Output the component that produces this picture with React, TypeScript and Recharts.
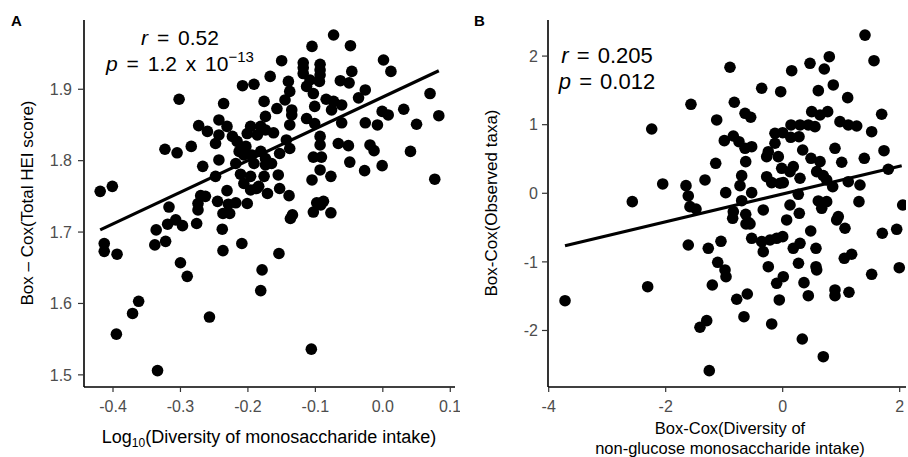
import React from "react";
import { ScatterChart, Scatter, XAxis, YAxis } from "recharts";

// Panel A: Log10(diversity of monosaccharide intake) vs Box-Cox(Total HEI score)
const monoDiversityA = [
  -0.073, -0.105, -0.048, -0.15, -0.118, -0.118, -0.118, -0.093, -0.093, -0.093, -0.094, 0.001, 0.012,
  -0.046, -0.063, -0.05, -0.026, -0.036, 0.07, 0.083, 0.031, 0.05, -0.001, 0.008, -0.026, -0.008, -0.061,
  0.041, 0.077, -0.001, -0.027, -0.049, -0.019, -0.013, -0.066, -0.051, -0.093, -0.093, -0.103, -0.091,
  -0.093, -0.077, -0.105, -0.155, -0.153, -0.139, -0.098, -0.088, -0.14, -0.138, -0.145, -0.157, -0.135,
  -0.135, -0.138, -0.113, -0.101, -0.101, -0.084, -0.073, -0.061, -0.076, -0.113, -0.103, -0.108, -0.162,
  -0.143, -0.138, -0.153, -0.165, -0.167, -0.302, -0.419, -0.401, -0.323, -0.305, -0.284, -0.267, -0.243,
  -0.248, -0.231, -0.273, -0.26, -0.243, -0.243, -0.248, -0.231, -0.223, -0.216, -0.213, -0.218, -0.236,
  -0.208, -0.191, -0.176, -0.174, -0.181, -0.196, -0.201, -0.186, -0.174, -0.203, -0.206, -0.194, -0.181,
  -0.174, -0.191, -0.174, -0.211, -0.196, -0.176, -0.206, -0.196, -0.184, -0.171, -0.27, -0.263, -0.245,
  -0.218, -0.201, -0.187, -0.317, -0.274, -0.274, -0.237, -0.227, -0.229, -0.137, -0.134, -0.103, -0.092,
  -0.077, -0.413, -0.413, -0.394, -0.336, -0.338, -0.322, -0.319, -0.307, -0.297, -0.276, -0.238, -0.237,
  -0.209, -0.3, -0.29, -0.362, -0.371, -0.395, -0.334, -0.257, -0.179, -0.181, -0.154, -0.106,
];
const heiScoreA = [
  1.976, 1.96, 1.961, 1.94, 1.937, 1.93, 1.922, 1.935, 1.927, 1.92, 1.911, 1.941, 1.925,
  1.925, 1.912, 1.909, 1.899, 1.888, 1.894, 1.863, 1.872, 1.851, 1.869, 1.864, 1.853, 1.85, 1.853,
  1.813, 1.774, 1.793, 1.786, 1.798, 1.822, 1.814, 1.824, 1.821, 1.834, 1.822, 1.805, 1.805,
  1.787, 1.778, 1.773, 1.78, 1.761, 1.751, 1.741, 1.743, 1.911, 1.897, 1.885, 1.873, 1.871,
  1.864, 1.85, 1.859, 1.852, 1.876, 1.886, 1.883, 1.878, 1.871, 1.904, 1.894, 1.913, 1.839,
  1.829, 1.817, 1.81, 1.796, 1.918, 1.886, 1.757, 1.764, 1.816, 1.811, 1.82, 1.792, 1.801,
  1.778, 1.758, 1.849, 1.841, 1.857, 1.836, 1.824, 1.848, 1.834, 1.827, 1.813, 1.796, 1.88,
  1.905, 1.907, 1.883, 1.862, 1.848, 1.848, 1.838, 1.836, 1.843, 1.82, 1.808, 1.808, 1.813,
  1.803, 1.796, 1.794, 1.781, 1.778, 1.778, 1.768, 1.759, 1.764, 1.754, 1.751, 1.75, 1.743,
  1.741, 1.74, 1.761, 1.735, 1.74, 1.731, 1.726, 1.726, 1.739, 1.719, 1.724, 1.728, 1.738,
  1.727, 1.684, 1.673, 1.669, 1.703, 1.682, 1.687, 1.711, 1.717, 1.709, 1.712, 1.704, 1.674,
  1.684, 1.657, 1.638, 1.603, 1.586, 1.557, 1.506, 1.581, 1.647, 1.618, 1.67, 1.536,
];
const fitXA = [-0.419, 0.083];
const fitYA = [1.703, 1.926];
const xTicksA = [-0.4, -0.3, -0.2, -0.1, 0.0, 0.1];
const yTicksA = [1.5, 1.6, 1.7, 1.8, 1.9];

// Panel B: Box-Cox(diversity of non-glucose monosaccharide intake) vs Box-Cox(Observed taxa)
const monoDiversityB = [
  1.407, 1.561, 0.797, 0.467, 0.711, 0.154, -0.901, -0.359, -0.034, 0.865, 0.609, 1.111, -1.568,
  -0.827, -2.239, -1.128, -0.644, -0.547, 1.692, 1.521, 1.732, 1.395, 1.805, 2.051, 0.769, 0.638,
  0.496, 0.552, 0.438, 0.296, 0.142, 0.137, 0.279, -0.132, 0.0, 0.979, 1.121, 1.265, 0.894, 1.009,
  0.342, 0.484, 0.638, 0.581, 0.694, 0.752, 0.855, 1.121, 1.321, 1.304, -0.132, -0.246, -0.274,
  -0.075, -0.017, 0.181, 0.125, 0.296, -0.274, -0.188, -0.046, 0.01, -0.644, -0.53, -0.998, -0.844,
  -0.747, -0.632, -0.701, -0.73, -0.53, -0.974, -1.145, -1.328, -1.653, -1.614, -1.585, -1.482,
  -2.051, -2.571, -0.701, -0.844, -0.855, -0.632, -0.588, -0.332, 0.125, 0.267, 0.284, 0.068, 0.609,
  0.667, 0.752, 0.95, 1.065, -3.721, -2.308, -1.614, -1.272, -1.055, -1.111, -0.986, -0.969, -1.203,
  -1.299, -1.414, -1.255, -0.786, -0.605, -0.662, -0.627, -0.559, -0.53, -0.359, -0.332, -0.217,
  -0.103, 0.0, -0.246, -0.103, 0.01, -0.058, -0.188, 0.181, 0.296, 0.27, 0.479, 0.569, 0.569, 0.581,
  0.364, 0.438, 0.335, 0.694, 0.894, 0.894, 1.133, 1.053, 1.179, 1.521, 1.703, 1.949, 1.993, 0.923,
];
const observedTaxaB = [
  2.306, 1.933, 1.991, 1.895, 1.812, 1.787, 1.837, 1.531, 1.481, 1.579, 1.496, 1.394, 1.297,
  1.327, 0.937, 1.069, 1.166, 1.108, 1.152, 0.898, 0.621, 0.51, 0.35, -0.171, 1.19, 1.141,
  1.19, 0.971, 0.996, 0.996, 0.996, 0.816, 0.825, 0.875, 0.883, 1.044, 0.996, 0.981, 0.656, 0.452,
  0.631, 0.51, 0.461, 0.315, 0.257, 0.194, 0.096, 0.169, 0.121, -0.122, 0.729, 0.606, 0.534,
  0.534, 0.364, 0.388, 0.315, 0.219, 0.242, 0.155, 0.146, 0.155, 0.656, 0.679, 0.767, 0.835,
  0.752, 0.461, 0.257, 0.111, 0.009, 0.009, 0.437, 0.194, 0.111, -0.039, -0.195, -0.229,
  0.136, -0.122, -0.108, -0.268, -0.365, -0.306, -0.423, -0.243, -0.171, -0.015, -0.292, -0.389, -0.112,
  -0.219, -0.122, -0.341, -0.51, -1.566, -1.362, -0.754, -0.802, -0.7, -1.006, -1.118, -1.216, -1.337,
  -1.857, -1.953, -2.586, -1.545, -1.468, -1.799, -0.447, -0.447, -0.656, -0.705, -0.851, -0.681,
  -0.656, -0.632, -1.07, -1.312, -1.216, -1.555, -1.905, -0.802, -0.729, -1.02, -0.55, -0.802, -1.07, -1.118,
  -1.303, -1.493, -2.124, -2.382, -1.409, -1.493, -1.443, -0.948, -0.889, -1.181, -0.583, -0.525, -1.085, -0.389,
];
const fitXB = [-3.721, 2.034];
const fitYB = [-0.764, 0.402];
const xTicksB = [-4, -2, 0, 2];
const yTicksB = [-2, -1, 0, 1, 2];

const zip = (xs: number[], ys: number[]) => xs.map((x, i) => ({ x, y: ys[i] }));
const pointsA = zip(monoDiversityA, heiScoreA);
const lineA = zip(fitXA, fitYA);
const pointsB = zip(monoDiversityB, observedTaxaB);
const lineB = zip(fitXB, fitYB);

const FONT = "'Liberation Sans', Arial, Helvetica, sans-serif";
const tickStyle = { fill: "#4d4d4d", fontSize: 16, fontFamily: FONT };
const axisLine = { stroke: "#000", strokeWidth: 1.6 };
const tickLine = { stroke: "#333", strokeWidth: 1.2 };

const Dot = (p: any) => <circle cx={p.cx} cy={p.cy} r={5.8} fill="#000" />;
const NoDot = () => <g />;

export default function App() {
  return (
    <div style={{ position: "absolute", left: 0, top: 0, width: 908, height: 457, background: "#fff", fontFamily: FONT }}>
      <div style={{ position: "absolute", left: 0, top: 0 }}>
        <ScatterChart width={460} height={457} margin={{ top: 20, right: 5, bottom: 0, left: 0 }}>
          <XAxis
            type="number"
            dataKey="x"
            domain={[-0.443, 0.107]}
            allowDataOverflow
            ticks={xTicksA}
            tickFormatter={(v: number) => v.toFixed(1)}
            height={70}
            tick={tickStyle}
            axisLine={axisLine}
            tickLine={tickLine}
            tickSize={5}
            tickMargin={9}
          />
          <YAxis
            type="number"
            dataKey="y"
            domain={[1.483, 1.997]}
            allowDataOverflow
            ticks={yTicksA}
            tickFormatter={(v: number) => v.toFixed(1)}
            width={84}
            tick={tickStyle}
            axisLine={axisLine}
            tickLine={tickLine}
            tickSize={6}
            tickMargin={6}
          />
          <Scatter data={pointsA} shape={Dot} isAnimationActive={false} />
          <Scatter data={lineA} shape={NoDot} line={{ stroke: "#000", strokeWidth: 3.2 }} isAnimationActive={false} />
        </ScatterChart>
      </div>
      <div style={{ position: "absolute", left: 460, top: 0 }}>
        <ScatterChart width={448} height={457} margin={{ top: 20, right: 2, bottom: 0, left: 0 }}>
          <XAxis
            type="number"
            dataKey="x"
            domain={[-4.012, 2.108]}
            allowDataOverflow
            ticks={xTicksB}
            height={70}
            tick={tickStyle}
            axisLine={axisLine}
            tickLine={tickLine}
            tickSize={5}
            tickMargin={9}
          />
          <YAxis
            type="number"
            dataKey="y"
            domain={[-2.824, 2.526]}
            allowDataOverflow
            ticks={yTicksB}
            width={88}
            tick={tickStyle}
            axisLine={axisLine}
            tickLine={tickLine}
            tickSize={6}
            tickMargin={4}
          />
          <Scatter data={pointsB} shape={Dot} isAnimationActive={false} />
          <Scatter data={lineB} shape={NoDot} line={{ stroke: "#000", strokeWidth: 3.2 }} isAnimationActive={false} />
        </ScatterChart>
      </div>
      <svg
        width={908}
        height={457}
        style={{ position: "absolute", left: 0, top: 0, pointerEvents: "none", fontFamily: FONT, whiteSpace: "pre" }}
      >
        <text x={11} y={26} fontSize={15} fontWeight="bold" fill="#000">A</text>
        <text x={474} y={26} fontSize={15} fontWeight="bold" fill="#000">B</text>

        <text x={180} y={45} fontSize={21} wordSpacing={3} textAnchor="middle" fill="#000">
          <tspan fontStyle="italic">r</tspan> = 0.52
        </text>
        <text x={180} y={71} fontSize={21} wordSpacing={3} textAnchor="middle" fill="#000">
          <tspan fontStyle="italic">p</tspan> = 1.2 x 10<tspan fontSize={15} dy={-9}>−13</tspan>
        </text>

        <text x={607} y={63} fontSize={22} wordSpacing={2} textAnchor="middle" fill="#000">
          <tspan fontStyle="italic">r</tspan> = 0.205
        </text>
        <text x={607} y={89} fontSize={22} wordSpacing={2} textAnchor="middle" fill="#000">
          <tspan fontStyle="italic">p</tspan> = 0.012
        </text>

        <text x={269} y={443} fontSize={18} textAnchor="middle" fill="#000">
          Log<tspan fontSize={12} dy={4}>10</tspan><tspan dy={-4}>(Diversity of monosaccharide intake)</tspan>
        </text>
        <text transform="translate(33,203) rotate(-90)" fontSize={17} textAnchor="middle" fill="#000">
          Box – Cox(Total HEI score)
        </text>

        <text x={730} y={434} fontSize={16.5} textAnchor="middle" fill="#000">Box-Cox(Diversity of</text>
        <text x={730} y={454} fontSize={16.5} textAnchor="middle" fill="#000">non-glucose monosaccharide intake)</text>
        <text transform="translate(497,203) rotate(-90)" fontSize={17} textAnchor="middle" fill="#000">
          Box-Cox(Observed taxa)
        </text>
      </svg>
    </div>
  );
}
